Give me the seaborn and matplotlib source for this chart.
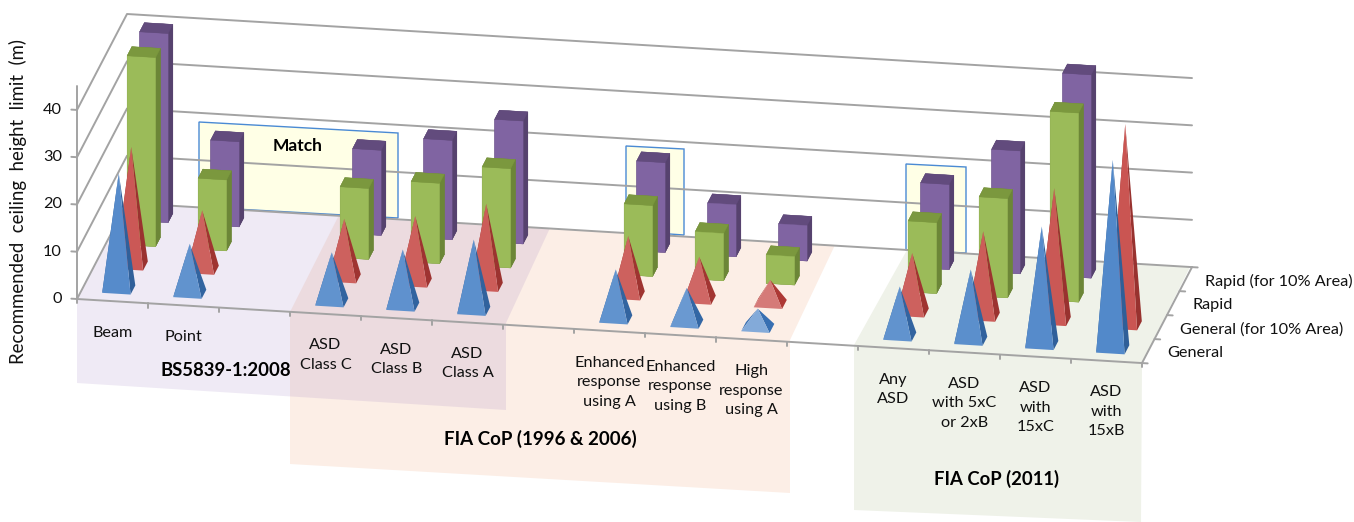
import colorsys
import numpy as np
import matplotlib
matplotlib.use("Agg")
import matplotlib.pyplot as plt
from matplotlib.patches import Polygon
from mpl_toolkits.mplot3d import proj3d
from mpl_toolkits.mplot3d.art3d import Poly3DCollection
import seaborn as sns

categories = ["Beam", "Point", "", "ASD\nClass C", "ASD\nClass B", "ASD\nClass A", "",
              "Enhanced\nresponse\nusing A", "Enhanced\nresponse\nusing B", "High\nresponse\nusing A", "",
              "Any\nASD", "ASD\nwith 5xC\nor 2xB", "ASD\nwith\n15xC", "ASD\nwith\n15xB"]
series_names = ["General", "General (for 10% Area)", "Rapid", "Rapid (for 10% Area)"]
general = [24.5, 10.5, None, 10.5, 12, 15, None, 10.5, 7.5, 4, None, 10.5, 15, 25, 40]
general_10 = [25, 12.5, None, 12.5, 14, 17.5, None, 12.5, 9, 5, None, 12.5, 18, 28, 42.5]
rapid = [40, 15, None, 15, 17, 21, None, 15, 10, 6, None, 15, 21, 40, None]
rapid_10 = [40, 18, None, 18, 21, 26, None, 19, 11, 7.5, None, 18, 26, 43, None]
z_ticks = [0, 10, 20, 30, 40]

W, H = 1354, 522
GRID = "#a3a3a3"
BLUE, RED, GREEN, PURPLE = "#4d85c8", "#c8504d", "#9bbb59", "#8064a2"

sns.set_theme(style="white")
plt.rcParams["font.family"] = ["Lato", "DejaVu Sans"]
LABEL_SIZE = 11.7
TEXT = "#111111"


def px(x, y):
    # reference pixels (from top left) to figure fraction
    return x / W, 1 - y / H


def shade(color, dl):
    r, g, b = sns.set_hls_values(color)
    h, l, s = colorsys.rgb_to_hls(r, g, b)
    return sns.set_hls_values(color, l=min(l + dl, 0.95))


fig = plt.figure(figsize=(W / 100, H / 100), dpi=100, facecolor="white")

# hand drawn overlays of the original slide, behind the chart
regions = [
    ([(199, 122), (398, 133), (398, 218), (199, 207)], "#ffffe6", 1, "#4a8ad4"),
    ([(626, 146), (684, 149), (684, 235), (626, 231)], "#ffffe6", 1, "#4a8ad4"),
    ([(906, 164), (966, 167), (966, 253), (906, 250)], "#ffffe6", 1, "#4a8ad4"),
    ([(338, 217), (835, 245), (790, 340), (790, 493), (290, 464), (290, 312)], "#fceee6", 1, "none"),
    ([(128, 203), (550, 228), (506, 323), (506, 410), (77, 383), (77, 299)], "#9473bc", 0.15, "none"),
    ([(907, 250), (1190, 267), (1142, 363), (1141, 522), (854, 510), (854, 345)], "#eff2e9", 1, "none"),
]
for pts, col, alpha, edge in regions:
    fig.add_artist(Polygon([px(*p) for p in pts], closed=True, transform=fig.transFigure,
                           facecolor=matplotlib.colors.to_rgba(col, alpha), edgecolor=edge,
                           linewidth=1, zorder=-1))

ax = fig.add_axes([0, -1, 1, 3], projection="3d", proj_type="ortho", computed_zorder=False)
ax.set_axis_off()
ax.patch.set_alpha(0)
n_cat, n_ser = len(categories), len(series_names)
ax.set_xlim(0, n_cat)
ax.set_ylim(0, n_ser)
ax.set_zlim(0, 40)
ax.view_init(elev=19.86, azim=-79.96)
aspect = (1081.5, 286.8, 201.0)
ax.set_box_aspect(aspect, zoom=1.0)

# walls, floor, ticks
line_kw = dict(color=GRID, lw=1.4, zorder=0)
for z in z_ticks:
    ax.plot([0, 0, n_cat], [0, n_ser, n_ser], [z, z, z], **line_kw)
    ax.plot([-0.08, 0], [0, 0], [z, z], **line_kw)
ax.plot([0, 0], [0, 0], [0, 45], **line_kw)
ax.plot([0, n_cat, n_cat], [0, 0, n_ser], [0, 0, 0], **line_kw)
for i in range(n_cat + 1):
    ax.plot([i, i], [0, 0], [0, -0.9], **line_kw)
for j in range(n_ser + 1):
    ax.plot([n_cat, n_cat + 0.08], [j, j], [0, 0], **line_kw)

W_BAR = 0.4   # footprint in category units
D_BAR = 0.38  # footprint in series units


def pyramids(values, row, color, order):
    for i, v in enumerate(values):
        if v is None:
            continue
        x0, x1 = i + 0.5 - W_BAR / 2, i + 0.5 + W_BAR / 2
        y0, y1 = row + 0.5 - D_BAR / 2, row + 0.5 + D_BAR / 2
        tip = (i + 0.5, row + 0.5, v)
        front = [(x0, y0, 0), (x1, y0, 0), tip]
        right = [(x1, y0, 0), (x1, y1, 0), tip]
        left = [(x0, y1, 0), (x0, y0, 0), tip]
        # short pyramids catch more light
        lit = shade(color, 0.55 / v)
        dark = shade(color, -0.16 + 0.3 / v)
        poly = Poly3DCollection([left, right, front], facecolors=[dark, dark, lit],
                                edgecolors="none", zorder=order)
        ax.add_collection3d(poly)


def bars(values, row, color, order):
    idx = [i for i, v in enumerate(values) if v is not None]
    heights = [values[i] for i in idx]
    top = shade(color, -0.12)
    side = shade(color, -0.17)
    # bottom, top, front, back, left, right
    cols = [side, top, color, side, side, side] * len(idx)
    ax.bar3d([i + 0.5 - W_BAR / 2 for i in idx], [row + 0.5 - D_BAR / 2] * len(idx), 0,
             W_BAR, D_BAR, heights, color=cols, edgecolor=cols, linewidth=0.3,
             shade=False, zorder=order)


bars(rapid_10, 3, PURPLE, 1)
bars(rapid, 2, GREEN, 2)
pyramids(general_10, 1, RED, 3)
pyramids(general, 0, BLUE, 4)

ax.set_xlim(0, n_cat)
ax.set_ylim(0, n_ser)
ax.set_zlim(0, 40)


def to_px(x, y, z):
    vx, vy, _ = proj3d.proj_transform(x, y, z, ax.get_proj())
    return ax.transData.transform((vx, vy))


# line the box up with the reference: origin and far end of the front edge
ax.apply_aspect()
a, b = to_px(0, 0, 0), to_px(n_cat, 0, 0)
ax.set_box_aspect(aspect, zoom=np.hypot(1065, 64) / np.hypot(*(b - a)))
ax.apply_aspect()
a = to_px(0, 0, 0)
pos = ax.get_position(original=True)
ax.set_position([pos.x0 + (77 - a[0]) / W, pos.y0 + (H - 299 - a[1]) / H, pos.width, pos.height])
ax.apply_aspect()


def label(x, y, z, text, dx=0, dy=0, **kw):
    # text at a projected data position, nudged in pixels
    p = to_px(x, y, z)
    fig.text((p[0] + dx) / W, (p[1] + dy) / H, text, fontsize=LABEL_SIZE, color=TEXT, **kw)


for z in z_ticks:
    label(0, 0, z, str(z), dx=-15, ha="right", va="center")
for i, lab in enumerate(categories):
    if lab:
        label(i + 0.5, 0, 0, lab, dy=-24.5, ha="center", va="top", linespacing=1.5, multialignment="center")
for j, name in enumerate(series_names):
    label(n_cat, j + 0.5, 0, name, dx=19, dy=-2, ha="left", va="center")

fig.text(*px(18, 202), "Recommended  ceiling  height  limit  (m)", rotation=90, ha="center", va="center",
         fontsize=13.4, color=TEXT)
for txt, x, y, size in [("BS5839-1:2008", 226, 371, 13.3), ("FIA CoP (1996 & 2006)", 540, 439, 13.5),
                        ("FIA CoP (2011)", 997, 479, 13.3), ("Match", 298, 146, 12.5)]:
    fig.text(*px(x, y), txt, ha="center", va="center", fontsize=size, fontweight="bold", color="black")

fig.savefig("out.png", dpi=100)
